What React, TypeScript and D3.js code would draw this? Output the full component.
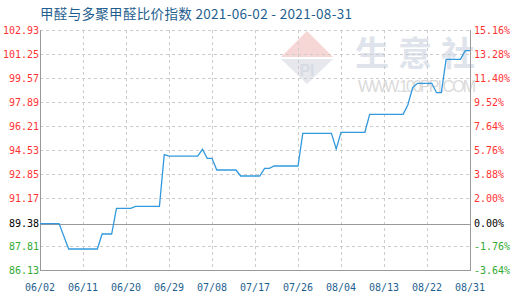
import React from "react";
import * as d3 from "d3";

// Daily index values (vertices of the series)
const dates = [
  "2021-06-02", "2021-06-06", "2021-06-08", "2021-06-14", "2021-06-15", "2021-06-17",
  "2021-06-18", "2021-06-21", "2021-06-22", "2021-06-27", "2021-06-28", "2021-06-29",
  "2021-07-05", "2021-07-06", "2021-07-07", "2021-07-08", "2021-07-09", "2021-07-13",
  "2021-07-14", "2021-07-18", "2021-07-19", "2021-07-20", "2021-07-21", "2021-07-26",
  "2021-07-27", "2021-08-02", "2021-08-03", "2021-08-04", "2021-08-09", "2021-08-10",
  "2021-08-17", "2021-08-18", "2021-08-19", "2021-08-20", "2021-08-23", "2021-08-24",
  "2021-08-25", "2021-08-26", "2021-08-29", "2021-08-30", "2021-08-31",
];
const values = [
  89.38, 89.38, 87.6, 87.6, 88.65, 88.65,
  90.44, 90.44, 90.59, 90.59, 94.2, 94.1,
  94.1, 94.58, 93.95, 93.95, 93.13, 93.13,
  92.71, 92.71, 93.25, 93.25, 93.41, 93.41,
  95.7, 95.7, 94.6, 95.77, 95.77, 97.03,
  97.03, 97.7, 98.9, 99.2, 99.2, 98.54,
  98.54, 100.88, 100.88, 101.48, 101.48,
];

const baseValue = 89.38;
const leftTicks = [86.13, 87.81, 89.38, 91.17, 92.85, 94.53, 96.21, 97.89, 99.57, 101.25, 102.93];
const rightTicks = [-3.64, -1.76, 0.0, 2.0, 3.88, 5.76, 7.64, 9.52, 11.4, 13.28, 15.16];
const xTickLabels = ["06/02", "06/11", "06/20", "06/29", "07/08", "07/17", "07/26", "08/04", "08/13", "08/22", "08/31"];

const titleText = "甲醛与多聚甲醛比价指数 2021-06-02 - 2021-08-31";

const W = 520;
const H = 300;
const M = { left: 40, right: 470, top: 30, bottom: 270 };

const parse = d3.timeParse("%Y-%m-%d");

export default function App() {
  const x = d3
    .scaleTime()
    .domain([parse("2021-06-02")!, parse("2021-08-31")!])
    .range([M.left, M.right]);
  const y = d3.scaleLinear().domain([86.13, 102.93]).range([M.bottom, M.top]);
  const yPct = d3.scaleLinear().domain([-3.64, 15.16]).range([M.bottom, M.top]);

  const pts = dates.map((d, i) => ({ t: parse(d)!, v: values[i] }));
  const line = d3
    .line<{ t: Date; v: number }>()
    .x((d) => x(d.t))
    .y((d) => y(d.v));

  const xTicks = xTickLabels.map((s) => ({ s, t: parse("2021-" + s.replace("/", "-"))! }));

  const colorFor = (v: number, base: number) =>
    Math.abs(v - base) < 1e-9 ? "#000" : v > base ? "#ff3333" : "#33aa33";

  const mono = "'DejaVu Sans Mono', monospace";

  return (
    <svg
      width={W}
      height={H}
      style={{ position: "absolute", left: 0, top: 0, background: "#fff" }}
    >
      {/* title */}
      <text
        x={40}
        y={19}
        fontFamily="'Noto Sans CJK SC', sans-serif"
        fontSize={13.5}
        fill="#1f5f8f"
        textLength={312}
        lengthAdjust="spacing"
      >
        {titleText}
      </text>

      {/* watermark */}
      <g>
        <path d="M307,31 L333,57 L281,57 Z" fill="#f7d6d6" />
        <path d="M281,59 L333,59 L307,84 Z" fill="#e6e8ee" />
        <text x={307} y={76} textAnchor="middle" fontFamily="Arial, sans-serif" fontWeight="bold" fontSize={16} fill="#d8dbe3">
          PI
        </text>
        {["生", "意", "社"].map((c, i) => (
          <text
            key={c}
            x={372 + i * 43}
            y={66}
            textAnchor="middle"
            fontFamily="'Noto Sans CJK SC', sans-serif"
            fontWeight="bold"
            fontSize={34}
            fill="#dfe3ec"
          >
            {c}
          </text>
        ))}
        <text x={358} y={92} fontFamily="Arial, sans-serif" fontSize={16} fill="#dadada" textLength={118}>
          WWW.100PPI.COM
        </text>
      </g>

      {/* horizontal grid */}
      {leftTicks.map((v) =>
        v === baseValue ? null : (
          <line
            key={"h" + v}
            x1={M.left}
            x2={M.right}
            y1={Math.round(y(v)) + 0.5}
            y2={Math.round(y(v)) + 0.5}
            stroke="#cccccc"
            strokeDasharray="3,3"
          />
        )
      )}
      {/* vertical grid */}
      {xTicks.slice(1, -1).map((d) => (
        <line
          key={"v" + d.s}
          x1={Math.round(x(d.t)) + 0.5}
          x2={Math.round(x(d.t)) + 0.5}
          y1={M.top}
          y2={M.bottom}
          stroke="#cccccc"
          strokeDasharray="3,3"
        />
      ))}

      {/* baseline */}
      <line
        x1={M.left}
        x2={M.right}
        y1={Math.round(y(baseValue)) + 0.5}
        y2={Math.round(y(baseValue)) + 0.5}
        stroke="#999"
      />

      {/* axes frame */}
      <line x1={M.left + 0.5} x2={M.left + 0.5} y1={M.top} y2={M.bottom} stroke="#999" />
      <line x1={M.right + 0.5} x2={M.right + 0.5} y1={M.top} y2={M.bottom} stroke="#999" />
      <line x1={M.left} x2={M.right + 1} y1={M.bottom + 0.5} y2={M.bottom + 0.5} stroke="#999" />

      {/* series */}
      <path d={line(pts) ?? ""} fill="none" stroke="#3399dd" strokeWidth={1.3} />

      {/* left axis labels */}
      {leftTicks.map((v) => (
        <text
          key={"l" + v}
          x={M.left - 1}
          y={y(v)}
          dy="0.35em"
          textAnchor="end"
          fontFamily={mono}
          fontSize={10}
          fill={colorFor(v, baseValue)}
        >
          {v.toFixed(2)}
        </text>
      ))}

      {/* right axis labels */}
      {rightTicks.map((v) => (
        <text
          key={"r" + v}
          x={M.right + 4}
          y={yPct(v)}
          dy="0.35em"
          fontFamily={mono}
          fontSize={10}
          fill={colorFor(v, 0)}
        >
          {v.toFixed(2) + "%"}
        </text>
      ))}

      {/* x axis labels */}
      {xTicks.map((d) => (
        <text
          key={"x" + d.s}
          x={x(d.t)}
          y={291}
          textAnchor="middle"
          fontFamily={mono}
          fontSize={10}
          fill="#1f5f8f"
        >
          {d.s}
        </text>
      ))}
    </svg>
  );
}
